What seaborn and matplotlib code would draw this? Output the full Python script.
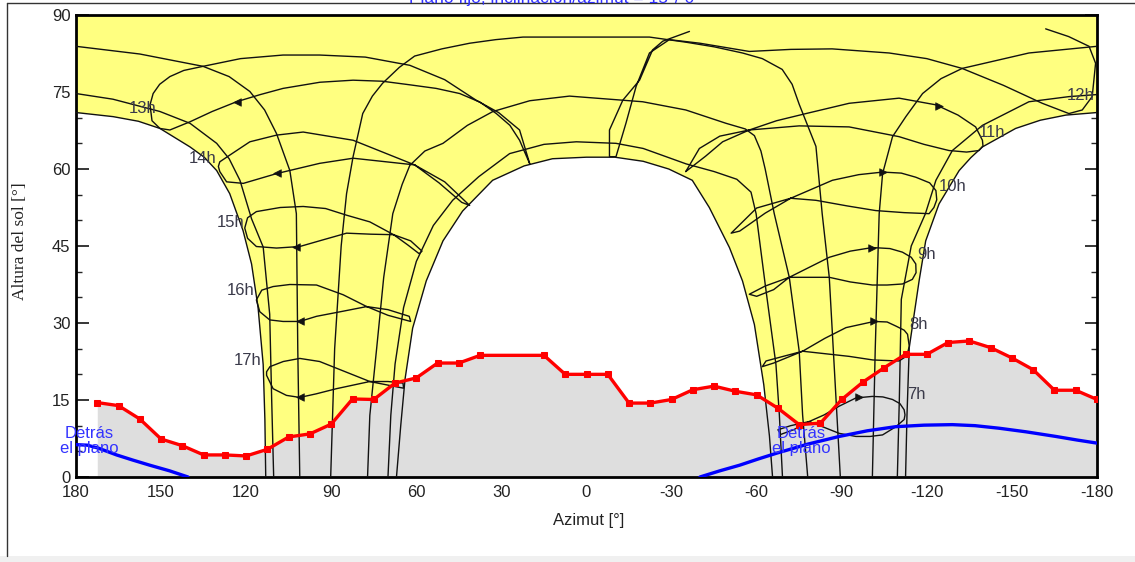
import matplotlib
matplotlib.use('Agg')
import matplotlib.pyplot as plt
import seaborn as sns
from matplotlib.lines import Line2D
from matplotlib.patches import Rectangle

sns.set_theme(style='white')
plt.rcParams['font.family'] = ['Liberation Sans', 'DejaVu Sans']

# ---------------- data ----------------
X_TICKS = [180, 150, 120, 90, 60, 30, 0, -30, -60, -90, -120, -150, -180]
X_TICK_LABELS = ['180', '150', '120', '90', '60', '30', '0', '-30', '-60', '-90', '-120', '-150', '-180']
Y_TICKS = [0, 15, 30, 45, 60, 75, 90]

# horizon profile
HZ_AZ = [172.5, 165, 157.5, 150, 142.5, 135, 127.5, 120, 112.5, 105, 97.5, 90, 82.5, 75, 67.5,
         60, 52.5, 45, 37.5, 15, 7.5, 0, -7.5, -15, -22.5, -30, -37.5, -45, -52.5, -60, -67.5,
         -75, -82.5, -90, -97.5, -105, -112.5, -120, -127.5, -135, -142.5, -150, -157.5, -165,
         -172.5, -180]
HZ_EL = [14.5, 13.9, 11.3, 7.4, 6.1, 4.3, 4.3, 4.1, 5.4, 7.8, 8.4, 10.3, 15.2, 15.1, 18.3,
         19.3, 22.2, 22.2, 23.7, 23.7, 20, 20, 20, 14.4, 14.4, 15.1, 17, 17.7, 16.7, 16, 13.4,
         10.2, 10.5, 15.1, 18.5, 21.3, 23.9, 23.9, 26.2, 26.5, 25.2, 23.2, 20.9, 16.9,
         16.9, 15.1]

# "behind the plane" lines
BL_L_AZ = [180, 176, 172, 165.7, 160, 154, 147, 140.5]
BL_L_EL = [6.3, 6.2, 5.6, 4.3, 3.3, 2.3, 1.2, 0]
BL_R_AZ = [-40, -47, -54, -60.5, -66.8, -78, -89.1, -99, -109, -119, -129, -137, -145.5,
           -155, -165.5, -173, -180]
BL_R_EL = [0, 1.2, 2.3, 3.5, 4.6, 6.4, 7.9, 9, 9.8, 10.1, 10.2, 10.0, 9.5, 8.8, 7.9, 7.2, 6.6]

# date lines (sun paths)
JUN_L_AZ = [113.1, 113.4, 114.0, 115.8, 118.1, 121.1, 125.8, 130.4, 134.8, 139.8, 150.4, 158, 166.9, 180]
JUN_L_EL = [0, 11.2, 21.9, 33.0, 41.5, 48.0, 55.2, 59.7, 62.3, 64.3, 67.9, 69.3, 70.2, 71.0]
JUN_R_AZ = [-112.5, -113.0, -113.8, -117.3, -119.6, -124.3, -131.4, -135.5, -139.6, -151.3, -160, -169, -180]
JUN_R_EL = [0, 12, 25.2, 38.3, 46.0, 53.2, 59.7, 62.2, 64.3, 67.9, 69.5, 70.5, 71.0]

MAYJUL_L_AZ = [110.3, 111.0, 111.7, 114.0, 118.1, 122.2, 126, 130.4, 139.8, 150.4, 167.0, 180]
MAYJUL_L_EL = [0, 15, 31.7, 44.8, 50.3, 57.8, 62.0, 65.0, 68.9, 71.2, 73.6, 74.7]
MAYJUL_R_AZ = [-109.6, -110.3, -111.0, -114.5, -119.5, -123.2, -129.0, -139.6, -156.0, -170.1, -180]
MAYJUL_R_EL = [0, 15, 34.6, 45, 51.3, 57.8, 63.6, 68.5, 73.1, 74.1, 74.5]

APRAUG_L_AZ = [101.1, 101.8, 102.3, 104.6, 109.3, 113.5, 118.7, 126, 135.2, 157.5, 180]
APRAUG_L_EL = [0, 24.8, 51.3, 59.7, 66.9, 71.5, 75.1, 78.0, 80.0, 82.4, 83.9]
APRAUG_R_AZ = [-100.8, -101.8, -103.2, -104.4, -107.9, -112.6, -118.5, -125, -132.5, -156.0, -180]
APRAUG_R_EL = [0, 24.8, 51.3, 59.1, 66.3, 70.2, 74.7, 77.6, 79.6, 82.6, 83.9]

MARSEP_AZ = [90.2, 88.8, 86.5, 84.6, 82.3, 78.9, 75.5, 71.9, 66, 60.6, 51, 41.2, 32, 22.4, -1,
             -22.2, -35.1, -45, -55, -62, -69, -72.5, -75, -80.9, -83.1, -85.6, -87.5, -89.5]
MARSEP_EL = [0, 25, 45, 55.2, 62.4, 70.8, 74.2, 76.7, 79.8, 82, 83.4, 84.5, 85.2, 85.7, 85.7,
             85.7, 84.7, 83.8, 82.6, 81.5, 79.4, 76.5, 72.6, 64.4, 51.3, 38.9, 20, 0]

FEBOCT_AZ = [77.2, 76.4, 74, 71.5, 68.3, 65, 62.3, 57, 50.6, 42, 33, 20, 6, -19.8, -35,
             -49.2, -56, -59.2, -61.5, -63, -66.2, -71.5, -75, -76.2, -78]
FEBOCT_EL = [0, 12, 25, 38.9, 51.3, 57, 60.7, 63.5, 65, 68.5, 71.2, 73.3, 74.2, 73.1, 71.5,
             68.9, 67.8, 66.5, 63.5, 60, 51.3, 38.9, 24.5, 12.1, 0]

JANNOV_AZ = [70, 69, 67.5, 64.5, 60, 54, 47.2, 38, 27.1, 15, 3.6, -10.4, -20, -35.1, -45,
             -53, -58, -59.8, -61.5, -63.3, -66.8, -68, -69.1]
JANNOV_EL = [0, 12, 22, 33, 42, 49, 53.9, 58.5, 63, 64.8, 65.3, 65, 64, 61, 59.5,
             58, 55.5, 51.3, 44, 36.3, 21.9, 12.1, 0]

DEC_AZ = [67, 65.5, 64, 61.3, 56.5, 50.6, 43.7, 33.1, 22, 12, 0, -10, -20, -29, -37.3, -43.3,
          -50.4, -55, -59.2, -62.5, -64.5, -65.6]
DEC_EL = [0, 10, 19, 29, 38.2, 46, 51.8, 57.8, 60.6, 62, 62.3, 62.3, 61.5, 60.0, 57.8, 52.5,
          44.7, 38.2, 29.7, 18, 8, 0]

# hour lines (analemmas)
H17_AZ = [76.4, 88.2, 94.1, 101.1, 106.9, 111.6, 112.8, 112.8, 110.5, 105.8, 101.1, 95.3, 88.2,
          76.4, 70, 64.7, 64.5, 70, 76.4]
H17_EL = [18.6, 21.2, 22.5, 23.1, 22.5, 21.5, 20.5, 19.8, 17.2, 15.9, 15.5, 16.2, 17.2,
          18.6, 18.6, 18.3, 17.3, 17.9, 18.6]
H16_AZ = [77.5, 85.8, 95.2, 104.6, 110.5, 114.5, 116.4, 115.2, 111.7, 107, 101.1, 95.2, 85.8,
          77.5, 70, 62.5, 62, 70, 77.5]
H16_EL = [33.2, 35.5, 37.4, 37.5, 37.1, 36.4, 34.5, 32.2, 30.6, 30.3, 30.3, 31.3, 32.3,
          33.2, 32.6, 31.3, 30.3, 31.5, 33.2]
H15_AZ = [68, 76.4, 84.6, 92, 99.9, 108, 116.4, 119.5, 120.5, 119.5, 116.4, 109.3, 101.1, 92.9,
          84.6, 76, 68, 62, 58, 59, 63, 68]
H15_EL = [47.2, 49.7, 51, 52.3, 52.7, 52.5, 51.7, 50.5, 48.5, 46.5, 44.9, 44.6, 44.9, 46.2,
          47.5, 47.3, 47.2, 46, 44, 43.5, 45.2, 47.2]
H14_AZ = [60.6, 82.3, 99.9, 109.3, 118.7, 125.8, 129.3, 129.8, 129.3, 126.9, 121, 109.3, 94.1,
          82.3, 60.6, 52, 44, 41.2, 50, 60.6]
H14_EL = [60.8, 65.6, 67.2, 66.6, 65.3, 62.7, 61.4, 60.5, 59.5, 57.5, 57.2, 59.1, 61.1,
          62.1, 60.8, 57.3, 53.5, 52.9, 57.5, 60.8]
H13_AZ = [20, 23.6, 31, 38.9, 50, 62.3, 78, 94.1, 107, 122, 135.2, 142, 146.9, 150.5, 152.8,
          153.9, 153.2, 150.4, 146.9, 139.8, 132, 123.4, 115, 107, 94, 82.3, 72, 62.3, 53,
          44.7, 37.5, 31.8, 27, 23.6, 20]
H13_EL = [61, 67.6, 71.0, 73.4, 77.4, 80.2, 81.8, 82.2, 82.2, 81.5, 80, 79.2, 78, 76.5, 74.7,
          72.5, 69.4, 67.9, 67.6, 69.2, 71.2, 73.1, 74.5, 75.7, 76.9, 77.3, 77.1, 76.4, 75.7,
          74.7, 73.0, 70.8, 68.5, 65.6, 61]
H12_AZ = [-36.3, -26.9, -23.3, -18.7, -12.8, -8.1, -8.1, -10.4, -13.9, -17.5, -22.2, -29.2,
          -40, -57.4, -72, -86.6, -106.7, -120, -132.4, -147, -160.7, -170.1, -174.8, -178.3,
          -178.9, -179.5, -177.2, -170, -161.9]
H12_EL = [86.8, 84.9, 83.2, 77.3, 73.4, 67.6, 62.4, 62.4, 68.9, 76.1, 82.6, 85.2,
          84.5, 82.9, 83.3, 83.4, 82.6, 81.5, 79.6, 76.3, 72.8, 70.8, 71.5, 74.1,
          77.3, 80.6, 83.9, 85.8, 87.3]
H11_AZ = [-35, -39.8, -47, -57.4, -67, -77.4, -92.6, -110.2, -123.2, -131, -137.2, -139.6,
          -139.8, -138.4, -134, -127.8, -119, -110.2, -92.6, -75, -57.4, -48, -42, -35]
H11_EL = [59.5, 64, 66.4, 67.6, 69.4, 70.8, 72.8, 73.8, 72.5, 70.5, 68.2, 65.6,
          64.5, 63.6, 63.3, 63.6, 64.8, 66.3, 68.2, 68.4, 67.6, 65.3, 62.5, 59.5]
H10_AZ = [-72, -86.7, -96, -104.4, -111, -116.1, -121, -123.2, -123.5, -122.5, -120.8, -112, -102,
          -92, -80.9, -72, -60, -51, -54, -63, -72]
H10_EL = [54.3, 57.8, 58.9, 59.4, 59.2, 58.4, 57.3, 55.8, 54, 52.5, 51.3, 51.5, 51.9,
          52.8, 53.9, 54.3, 52.4, 47.5, 47.9, 51.4, 54.3]
H9_AZ = [-71.5, -85.6, -93, -100.8, -107, -111.4, -114.5, -116.1, -116.2, -114.9, -111.4, -106,
         -100.8, -93, -85.6, -71.5, -63, -57.4, -60, -66, -71.5]
H9_EL = [38.9, 42.8, 44.0, 44.7, 44.5, 43.8, 42.8, 41.5, 39.8, 38.5, 37.6, 37.4,
         37.4, 38.0, 38.9, 38.9, 37.2, 35.6, 35.2, 36.5, 38.9]
H8_AZ = [-76.2, -84, -91.5, -101.4, -106, -109.1, -112, -113.2, -113.8, -113, -110.2, -101, -92.6,
         -76.2, -68, -63.3, -62, -66, -76.2]
H8_EL = [24.5, 27, 29.1, 30.3, 30.2, 29.4, 28.6, 27.8, 25.5, 23.6, 22.6, 22.8, 23.5,
         24.5, 23.3, 22.6, 21.5, 22.2, 24.5]
H7_AZ = [-78.5, -83.8, -89.1, -95, -100.8, -104.5, -107.9, -110.5, -112, -112.3, -112, -109.1,
         -104.4, -100, -95, -89.1, -83.2, -78.5, -72, -67.5, -68.5, -73, -78.5]
H7_EL = [10.8, 12.1, 13.8, 15.4, 15.7, 15.6, 15.1, 14.3, 13.1, 12.1, 11.2, 9.8,
         8.2, 7.9, 7.9, 8.5, 9.8, 10.8, 10, 9.2, 8.3, 9.2, 10.8]

# direction arrows on the hour lines (afternoon: pointing west/left, morning: right)
ARROW_L_AZ = [123.4, 109.3, 102.3, 101.1, 101.1]
ARROW_L_EL = [73.1, 59.3, 44.9, 30.3, 15.6]
ARROW_R_AZ = [-124.3, -104.4, -100.8, -101.4, -96.1]
ARROW_R_EL = [72.3, 59.4, 44.7, 30.3, 15.5]

HOUR_LABELS = ['13h', '14h', '15h', '16h', '17h', '12h', '11h', '10h', '9h', '8h', '7h']
HOUR_LABEL_AZ = [151.5, 130.3, 120.5, 117.0, 114.6, -169.4, -138.4, -124.3, -116.6, -113.8, -113.0]
HOUR_LABEL_EL = [71.8, 62.0, 49.6, 36.3, 22.6, 74.4, 67.2, 56.5, 43.4, 29.7, 16.0]

# ---------------- figure ----------------
W, H = 1135, 562
fig = plt.figure(figsize=(W / 100, H / 100), dpi=100)
ax = fig.add_axes([76 / W, 1 - 477 / H, (1097 - 76) / W, (477 - 15) / H])
ax.set_xlim(180, -180)
ax.set_ylim(0, 90)

# yellow sun-path region
poly_az = [180, -180] + JUN_R_AZ[::-1] + DEC_AZ[::-1] + JUN_L_AZ
poly_el = [90, 90] + JUN_R_EL[::-1] + DEC_EL[::-1] + JUN_L_EL
ax.fill(poly_az, poly_el, color='#ffff80', lw=0, zorder=1)

# horizon gray
ax.fill_between(HZ_AZ, 0, HZ_EL, color='#dedede', lw=0, zorder=2)


def bline(az, el, z=3):
    sns.lineplot(x=az, y=el, sort=False, estimator=None, ax=ax, legend=False,
                 color='#111111', linewidth=1.0, zorder=z)


curves = [(JUN_L_AZ, JUN_L_EL), (JUN_R_AZ, JUN_R_EL), (MAYJUL_L_AZ, MAYJUL_L_EL),
          (MAYJUL_R_AZ, MAYJUL_R_EL), (APRAUG_L_AZ, APRAUG_L_EL), (APRAUG_R_AZ, APRAUG_R_EL),
          (MARSEP_AZ, MARSEP_EL), (FEBOCT_AZ, FEBOCT_EL), (JANNOV_AZ, JANNOV_EL), (DEC_AZ, DEC_EL),
          (H17_AZ, H17_EL), (H16_AZ, H16_EL), (H15_AZ, H15_EL), (H14_AZ, H14_EL), (H13_AZ, H13_EL),
          (H12_AZ, H12_EL), (H11_AZ, H11_EL), (H10_AZ, H10_EL), (H9_AZ, H9_EL), (H8_AZ, H8_EL),
          (H7_AZ, H7_EL)]
for caz, cel in curves:
    bline(caz, cel)

# arrows
sns.scatterplot(x=ARROW_L_AZ, y=ARROW_L_EL, marker='<', s=30, color='#111111',
                edgecolor='#111111', ax=ax, legend=False, zorder=3)
sns.scatterplot(x=ARROW_R_AZ, y=ARROW_R_EL, marker='>', s=30, color='#111111',
                edgecolor='#111111', ax=ax, legend=False, zorder=3)

# blue lines
for baz, bel in [(BL_L_AZ, BL_L_EL), (BL_R_AZ, BL_R_EL)]:
    sns.lineplot(x=baz, y=bel, sort=False, estimator=None, ax=ax, legend=False,
                 color='#0000ff', linewidth=2.4, zorder=4)

# red horizon line
sns.lineplot(x=HZ_AZ, y=HZ_EL, sort=False, estimator=None, ax=ax, legend=False,
             color='#ff0000', linewidth=2.4, marker='s', markersize=5,
             markeredgecolor='#ff0000', zorder=5)

# hour labels
for lab, laz, lel in zip(HOUR_LABELS, HOUR_LABEL_AZ, HOUR_LABEL_EL):
    ha = 'right' if laz > 0 else 'left'
    ax.text(laz, lel, lab, ha=ha, va='center', fontsize=12, color='#3a3a4a', zorder=6)

# behind-the-plane labels
for taz in (175.4, -75.7):
    ax.text(taz, 7.1, 'Detrás\nel plano', ha='center', va='center', fontsize=12,
            color='#3333ff', linespacing=1.0, zorder=6)

# axes styling
ax.set_xticks(X_TICKS)
ax.set_xticklabels(X_TICK_LABELS)
ax.set_yticks(Y_TICKS)
ax.set_yticks(range(0, 91, 5), minor=True)
ax.tick_params(axis='x', length=0, pad=6, labelsize=12, labelcolor='#222222')
ax.tick_params(axis='y', which='major', direction='in', length=9, width=1.3,
               left=True, right=True, labelsize=12, labelcolor='#222222', pad=4)
ax.tick_params(axis='y', which='minor', direction='in', length=4, width=1.0,
               left=True, right=True)
for s in ax.spines.values():
    s.set_color('black')
    s.set_linewidth(2.0)
    s.set_visible(True)
ax.set_xlabel('Azimut [°]', fontsize=12, color='#222222')
ax.xaxis.set_label_coords(0.502, -0.078)
ax.set_ylabel('Altura del sol [°]', fontsize=12.5, color='#222222',
              family=['Liberation Serif', 'DejaVu Serif'])
ax.yaxis.set_label_coords(-0.047, 0.51)
ax.grid(False)

# outer frame and title (clipped at top, as in the original screenshot)
fig.add_artist(Line2D([7 / W, 7 / W], [6 / H, 1 - 3 / H], color='#333333', lw=1.0))
fig.add_artist(Line2D([7 / W, 1.0], [1 - 3 / H, 1 - 3 / H], color='#333333', lw=1.0))
fig.add_artist(Rectangle((0, 0), 1, 6 / H, color='#f0f0f0', lw=0))
fig.text(555 / W, 1 - 3.5 / H, 'Plano fijo, inclinación/azimut = 15°/ 0°', ha='center',
         va='baseline', fontsize=12.5, color='#3030ff')

fig.savefig('out.png', dpi=100)
